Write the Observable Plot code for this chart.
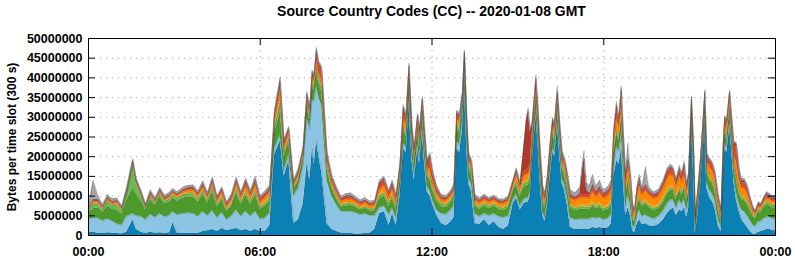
<!DOCTYPE html>
<html><head><meta charset="utf-8">
<script src="https://cdn.jsdelivr.net/npm/d3@7"></script>
<script src="https://cdn.jsdelivr.net/npm/@observablehq/plot@0.6"></script>
<style>
html,body{margin:0;padding:0;background:#fff;}
#title{width:795px;box-sizing:border-box;padding-left:68px;padding-top:3px;height:26px;line-height:23px;text-align:center;font:bold 14px "Liberation Sans",Arial,sans-serif;color:#000;}
</style></head>
<body>
<div id="title">Source Country Codes (CC) -- 2020-01-08 GMT</div>
<div id="chart"></div>
<script>
// time of each 300 s slot sample, minutes after 00:00 GMT
const times = [0,10,20,30,40,50,60,70,80,93,
 100,110,120,130,140,150,160,170,177,186,
 200,210,220,230,240,250,260,270,280,290,
 300,310,320,330,340,350,360,370,380,390,
 402,410,420,430,440,450,458,464,469,473,
 478,483,489,494,500,510,520,530,540,550,
 560,570,580,590,600,610,620,630,637,645,
 653,660,666,672,678,683,690,694,700,704,
 710,716,721,730,740,750,760,766,772,778,
 784,788,793,797,803,810,820,830,840,850,
 860,870,880,890,897,905,912,918,922,926,
 930,935,938,942,946,952,957,962,968,973,
 977,983,988,993,998,1004,1010,1020,1030,1036,
 1039,1044,1050,1057,1064,1072,1080,1090,1096,1101,
 1107,1112,1117,1121,1126,1131,1136,1141,1145,1150,
 1155,1160,1168,1175,1185,1195,1205,1213,1220,1226,
 1232,1239,1244,1249,1254,1258,1264,1268,1272,1277,
 1283,1287,1292,1296,1302,1308,1313,1320,1326,1331,
 1334,1338,1344,1348,1353,1358,1364,1369,1375,1381,
 1387,1393,1398,1404,1410,1416,1422,1428,1434,1440];

// series values, millions of bytes per slot (stack order bottom -> top)
const cc1 = [0.8,0.8,0.6,0.5,0.7,0.6,0.5,0.4,0.8,4.0,
 1.5,0.8,0.5,0.8,0.6,0.7,0.5,0.7,3.2,0.6,
 0.6,0.5,0.5,0.6,1.0,1.2,1.5,1.0,1.8,1.2,
 1.5,1.8,1.2,1.5,1.0,1.5,1.0,1.0,2.5,20.5,
 24,15,19,3.0,4.0,8.0,18,14,22,18,
 24,20,16,10,3.0,1.5,1.0,0.6,0.5,0.5,
 0.4,0.4,0.5,0.6,1.5,5.5,6.0,2.5,5.5,2.5,
 10,22,21,33,19,14,22,18,26,19,
 11,10,8.0,5.0,3.0,2.5,3.5,4.5,22,21,
 27,38,22,13,11,3.0,2.8,4.0,2.5,3.5,
 2.0,1.5,2.5,8.0,9.5,6.5,8.0,8.5,8.5,10,
 18,26,30,24,15,5.0,3.5,7.5,15,21,
 20,28,20,13,11.5,7.5,2.0,1.5,1.5,1.5,
 1.5,1.5,1.6,2.0,1.8,2.0,1.7,2.0,3.0,15,
 19,18,22,14,5.0,7.0,5.0,1.0,0.8,3.0,
 4.0,2.8,3.0,2.5,2.3,2.8,4.0,5.5,6.5,7.0,
 5.0,6.5,6.0,7.0,4.5,7.0,27,17,0.5,5.0,
 12.5,19,28,12,9.5,8.5,7.0,2.5,0.8,17,
 22,21,27.5,22,13.5,9.0,6.0,4.0,3.0,2.0,
 1.0,0.3,0.3,0.8,1.0,1.3,1.5,1.5,1.2,1.2];
const cc2 = [3.4,3.6,3.8,3.2,3.5,3.0,2.4,2.2,4.0,1.5,
 3.5,4.0,3.5,4.5,4.0,4.8,4.2,4.4,2.8,4.6,
 5.0,5.2,5.0,4.2,5.0,3.8,4.8,3.5,4.0,2.8,
 3.4,4.6,3.6,4.6,3.8,4.6,3.2,3.4,3.2,1.5,
 1.5,1.5,1.5,7.0,8.0,9.5,12,13,12.5,16,
 14,15,17,14,11,8.5,6.8,5.4,5.6,5.6,
 5.4,4.8,5.0,4.4,3.5,1.5,1.5,2.8,1.5,2.0,
 1.2,1.5,1.3,1.5,1.5,1.5,1.5,1.5,1.5,1.5,
 1.5,1.2,1.2,1.5,2.5,2.8,3.0,3.0,2.0,2.0,
 2.0,1.5,1.5,1.5,2.0,2.5,2.0,1.5,2.5,2.0,
 2.8,3.0,2.4,1.0,1.0,1.0,1.0,1.0,1.0,1.0,
 1.0,1.0,1.0,1.0,1.0,1.2,1.0,1.0,1.2,1.2,
 1.2,1.2,1.2,1.3,1.5,2.0,2.5,2.5,2.6,2.6,
 2.6,2.6,2.5,2.6,2.5,2.6,2.3,2.4,2.4,2.0,
 3.5,3.3,3.5,3.5,2.5,3.5,2.5,1.5,1.3,2.0,
 2.5,2.0,2.2,2.2,1.8,2.0,2.2,2.5,2.5,2.0,
 2.0,2.5,2.0,2.2,2.0,1.8,1.5,1.2,1.0,1.2,
 1.2,1.2,1.2,1.5,2.0,2.0,2.0,1.8,1.2,1.2,
 1.3,1.3,1.3,1.3,1.3,2.0,2.0,2.5,3.0,3.0,
 2.8,2.3,2.0,2.6,2.6,3.0,3.2,3.2,3.0,3.0];
const cc3 = [1.6,2.4,2.6,2.2,3.2,3.0,3.6,2.8,4.0,6.5,
 5.5,4.0,2.4,3.8,3.0,4.2,3.2,3.4,3.4,3.5,
 4.0,4.0,4.2,3.6,4.4,3.2,4.8,2.8,3.2,2.0,
 2.5,4.3,3.0,4.0,3.0,4.2,2.4,3.0,3.0,4.0,
 6.0,3.5,3.0,1.5,1.8,2.0,2.5,2.3,3.0,2.8,
 3.5,3.5,3.5,3.2,2.8,2.0,1.5,1.2,1.4,1.5,
 1.4,1.2,1.4,1.2,1.2,2.2,2.5,2.0,2.3,2.0,
 2.5,3.0,2.8,3.5,3.0,2.5,2.8,2.8,3.0,3.0,
 2.5,2.8,2.5,2.2,1.8,1.8,1.9,2.2,3.0,3.2,
 3.5,3.5,3.0,2.6,2.6,2.0,1.8,2.0,1.8,1.9,
 1.8,1.8,2.0,2.0,2.4,2.3,3.0,3.2,3.3,3.0,
 3.0,3.0,3.2,3.0,2.8,2.4,2.2,2.4,2.8,2.8,
 2.8,3.0,2.8,2.6,2.5,2.5,2.5,2.3,2.5,2.6,
 2.6,2.5,2.4,2.8,2.4,2.6,2.2,2.3,2.4,3.0,
 3.0,2.8,3.2,3.0,2.5,3.0,2.5,1.5,1.4,2.2,
 2.5,2.4,2.8,2.4,2.2,2.0,2.2,2.4,2.5,2.4,
 2.0,2.3,2.2,2.5,2.0,2.2,2.5,2.0,1.2,1.8,
 2.0,2.2,2.4,2.4,2.6,2.6,2.4,2.0,1.4,2.0,
 2.2,2.2,2.5,2.3,2.3,3.0,2.6,2.6,2.8,2.8,
 2.5,2.2,1.9,2.4,2.2,2.8,3.0,2.8,2.8,2.9];
const cc4 = [0.5,1.2,1.0,0.6,1.2,1.0,1.2,0.8,1.5,5.8,
 2.5,1.2,0.5,0.8,0.6,0.8,0.6,0.7,0.8,0.7,
 0.8,0.9,0.9,0.8,0.8,0.6,0.9,0.5,0.6,0.4,
 0.5,1.0,0.6,0.8,0.7,0.9,0.6,0.7,0.8,1.2,
 2.0,1.0,0.8,0.4,0.5,0.5,0.8,0.7,0.8,0.8,
 1.0,0.9,1.0,0.9,0.8,0.6,0.5,0.4,0.5,0.5,
 0.4,0.4,0.4,0.4,0.4,0.8,0.8,0.7,0.8,0.7,
 0.8,1.0,0.9,1.2,1.0,0.8,0.9,0.9,1.0,0.9,
 0.8,0.8,0.8,0.7,0.6,0.6,0.6,0.7,1.0,1.0,
 1.2,1.5,1.0,0.9,0.8,0.6,0.6,0.6,0.6,0.6,
 0.6,0.6,0.6,0.6,0.7,0.7,0.8,0.8,0.8,0.8,
 0.8,0.8,0.8,0.8,0.8,0.7,0.7,0.7,0.8,0.8,
 0.8,0.8,0.8,0.7,0.7,0.7,0.6,0.6,0.6,0.6,
 0.6,0.6,0.6,0.7,0.6,0.7,0.6,0.6,0.6,0.8,
 0.8,0.7,0.8,0.8,0.7,0.8,0.7,0.5,0.4,0.6,
 0.7,0.6,0.6,0.6,0.6,0.5,0.6,0.6,0.6,0.6,
 0.5,0.6,0.5,0.6,0.5,0.5,0.6,0.6,0.4,0.5,
 0.6,0.6,0.6,0.6,0.6,0.6,0.6,0.5,0.4,0.6,
 0.6,0.6,0.6,0.6,0.6,0.7,0.7,0.6,0.6,0.6,
 0.5,0.5,0.4,0.6,0.5,0.6,0.7,0.6,0.6,0.6];
const cc5 = [0.1,0.2,0.2,0.2,0.2,0.2,0.2,0.2,0.2,0.3,
 0.2,0.2,0.1,0.2,0.2,0.2,0.2,0.2,0.2,0.2,
 0.2,0.3,0.3,0.3,0.3,0.3,0.4,0.3,0.4,0.3,
 0.3,0.5,0.4,0.5,0.4,0.5,0.4,0.4,0.4,0.6,
 0.8,0.4,0.4,0.2,0.3,0.3,0.4,0.3,0.4,0.4,
 0.5,0.5,0.5,0.5,0.4,0.3,0.3,0.3,0.3,0.3,
 0.3,0.2,0.3,0.2,0.3,0.4,0.4,0.4,0.4,0.4,
 0.4,0.5,0.5,0.5,0.4,0.4,0.4,0.4,0.4,0.4,
 0.4,0.5,0.4,0.4,0.3,0.3,0.3,0.4,0.5,0.5,
 0.4,0.4,0.4,0.4,0.4,0.3,0.3,0.3,0.3,0.3,
 0.3,0.3,0.3,0.3,0.4,0.4,0.5,0.5,0.5,0.5,
 0.5,0.5,0.5,0.5,0.4,0.4,0.4,0.4,0.5,0.5,
 0.5,0.5,0.5,0.5,0.5,0.4,0.4,0.4,0.5,0.5,
 0.5,0.5,0.5,0.6,0.5,0.5,0.5,0.5,0.5,0.5,
 0.5,0.5,0.5,0.5,0.5,0.5,0.5,0.4,0.4,0.5,
 0.5,0.5,0.5,0.5,0.5,0.5,0.5,0.5,0.5,0.5,
 0.5,0.5,0.5,0.5,0.4,0.4,0.4,0.4,0.3,0.4,
 0.4,0.4,0.5,0.5,0.5,0.5,0.5,0.4,0.3,0.4,
 0.4,0.4,0.4,0.4,0.4,0.5,0.5,0.5,0.5,0.5,
 0.4,0.3,0.3,0.3,0.3,0.3,0.3,0.3,0.3,0.3];
const cc6 = [0.3,0.4,0.4,0.3,0.4,0.3,0.4,0.3,0.4,0.4,
 0.4,0.4,0.3,0.4,0.3,0.4,0.4,0.4,0.4,0.4,
 0.5,0.6,0.6,0.6,0.8,0.7,0.9,0.8,0.9,0.7,
 0.9,1.0,0.9,1.2,1.0,1.2,0.9,1.0,1.0,1.5,
 2.5,1.2,1.2,0.6,0.8,0.8,1.0,0.9,1.2,1.2,
 1.5,1.4,1.5,1.4,1.2,0.9,0.8,0.7,0.8,0.8,
 0.7,0.7,0.7,0.6,0.7,1.2,1.4,1.2,1.3,1.2,
 1.2,1.8,1.6,1.5,1.2,1.2,1.2,1.2,1.2,1.2,
 1.0,1.5,1.2,1.0,0.8,0.8,0.8,0.8,1.2,1.2,
 0.8,0.8,0.8,0.9,0.9,0.7,0.7,0.8,0.7,0.7,
 0.7,0.8,0.9,1.0,1.4,1.2,1.5,1.5,1.5,1.4,
 1.3,1.3,1.3,1.3,1.2,1.2,1.1,1.2,1.3,1.3,
 1.3,1.5,1.3,1.2,1.2,1.2,1.5,1.6,1.8,1.8,
 1.8,1.8,1.8,2.5,1.9,2.4,2.0,2.3,2.5,2.5,
 3.0,2.2,3.0,2.5,2.2,2.5,2.5,1.3,1.2,2.0,
 2.5,1.9,2.3,2.0,1.9,2.0,2.4,2.8,2.8,2.6,
 2.3,2.6,2.3,2.6,2.0,2.0,1.5,1.3,0.8,1.4,
 1.6,1.6,1.8,1.8,2.2,2.2,2.0,1.8,1.2,1.6,
 1.7,1.7,2.0,1.8,2.2,3.5,2.5,2.0,2.0,1.8,
 1.2,0.7,0.5,0.7,0.6,0.7,0.8,0.7,0.7,0.7];
const cc7 = [0.2,0.3,0.3,0.2,0.3,0.3,0.3,0.2,0.3,0.3,
 0.3,0.3,0.2,0.3,0.2,0.3,0.3,0.3,0.3,0.3,
 0.4,0.4,0.4,0.4,0.5,0.4,0.6,0.5,0.6,0.4,
 0.6,0.6,0.5,0.8,0.6,0.8,0.6,0.7,0.7,1.0,
 1.8,0.8,0.8,0.5,0.6,0.6,0.8,0.8,1.0,1.0,
 1.8,1.8,2.2,2.0,1.2,0.8,0.6,0.5,0.6,0.6,
 0.5,0.5,0.5,0.5,0.5,1.2,1.3,1.0,1.2,0.9,
 1.2,2.0,1.8,1.5,1.2,1.2,1.2,1.2,1.2,1.2,
 1.0,3.0,1.8,1.0,0.6,0.5,0.6,0.6,1.0,1.0,
 0.6,0.6,0.6,0.8,0.8,0.5,0.5,0.5,0.5,0.5,
 0.4,0.5,0.5,0.6,0.8,0.7,1.2,1.2,1.3,1.0,
 1.0,1.5,2.5,2.0,1.5,1.0,0.9,1.0,1.1,1.1,
 1.0,1.0,0.9,0.8,0.8,0.7,0.6,0.5,0.6,0.8,
 0.8,0.8,0.7,1.1,0.8,1.0,0.8,1.0,1.1,1.5,
 2.5,1.5,3.5,1.5,1.3,1.5,1.3,0.8,0.7,1.0,
 1.4,0.8,1.0,0.8,0.7,0.8,1.0,1.5,1.5,1.3,
 1.2,1.5,1.4,2.2,0.9,1.2,1.2,0.8,0.4,0.6,
 0.9,1.2,1.6,1.3,1.3,1.3,1.2,0.9,0.8,1.3,
 1.3,1.4,1.6,1.6,2.3,4.0,1.8,1.2,1.5,1.2,
 0.7,0.5,0.4,0.4,0.4,0.5,0.6,0.5,0.5,0.5];
const cc8 = [0.1,0.2,0.2,0.1,0.2,0.2,0.2,0.1,0.2,0.2,
 0.2,0.2,0.1,0.2,0.1,0.2,0.2,0.2,0.2,0.2,
 0.2,0.2,0.2,0.2,0.3,0.2,0.3,0.2,0.3,0.2,
 0.3,0.3,0.3,0.4,0.3,0.4,0.3,0.3,0.3,0.4,
 0.6,0.3,0.3,0.2,0.3,0.2,0.3,0.3,0.4,0.3,
 0.6,0.5,0.6,0.5,0.4,0.3,0.3,0.2,0.3,0.3,
 0.2,0.2,0.2,0.2,0.2,0.4,0.4,0.3,0.4,0.3,
 0.4,0.6,0.5,0.4,0.3,0.3,0.4,0.4,0.4,0.4,
 0.3,0.5,0.4,0.3,0.2,0.2,0.2,0.2,0.4,0.4,
 0.3,0.3,0.3,0.3,0.3,0.2,0.2,0.2,0.2,0.2,
 0.2,0.2,0.2,0.2,0.4,0.3,5.5,12.5,14.5,8.5,
 2.5,1.0,0.6,0.5,0.5,0.4,0.4,0.5,0.5,0.5,
 0.5,0.5,0.4,0.4,0.4,0.3,0.3,0.3,0.4,6.5,
 9.0,1.2,0.5,0.6,0.5,0.5,0.4,0.4,0.4,0.5,
 0.6,0.5,0.6,0.5,0.5,0.5,0.4,0.3,0.3,0.4,
 0.5,0.3,0.4,0.3,0.3,0.3,0.4,0.4,0.4,0.4,
 0.3,0.4,0.4,0.5,0.3,0.3,0.3,0.3,0.2,0.3,
 0.3,0.3,0.4,0.4,0.4,0.4,0.4,0.3,0.3,0.4,
 0.4,0.4,0.5,0.5,0.5,0.5,0.5,0.4,0.4,0.4,
 0.3,0.2,0.2,0.2,0.2,0.2,0.3,0.3,0.3,0.3];
const cc9 = [0.1,0.1,0.1,0.1,0.1,0.1,0.1,0.1,0.1,0.1,
 0.1,0.1,0.1,0.1,0.1,0.1,0.1,0.1,0.1,0.1,
 0.1,0.1,0.1,0.1,0.2,0.1,0.2,0.1,0.1,0.1,
 0.1,0.2,0.1,0.2,0.1,0.2,0.1,0.2,0.2,0.3,
 0.3,0.2,0.2,0.1,0.1,0.1,0.2,0.2,0.2,0.2,
 0.3,0.2,0.2,0.2,0.2,0.1,0.1,0.1,0.1,0.1,
 0.1,0.1,0.1,0.1,0.1,0.2,0.2,0.1,0.2,0.1,
 0.2,0.2,0.2,0.2,0.2,0.2,0.2,0.2,0.2,0.2,
 0.2,0.2,0.2,0.1,0.1,0.1,0.1,0.1,0.2,0.2,
 0.2,0.2,0.2,0.2,0.2,0.1,0.1,0.1,0.1,0.1,
 0.1,0.1,0.1,0.1,0.1,0.1,0.2,0.2,0.3,0.2,
 0.2,0.2,0.2,0.2,0.2,0.2,0.2,0.2,0.2,0.2,
 0.2,0.3,0.2,0.2,0.2,0.2,0.2,0.1,0.2,0.2,
 0.2,0.2,0.2,0.2,0.2,0.2,0.2,0.2,0.2,0.2,
 0.3,0.2,0.3,0.2,0.2,0.2,0.2,0.1,0.1,0.2,
 0.2,0.2,0.2,0.2,0.2,0.2,0.2,0.2,0.2,0.2,
 0.2,0.2,0.2,0.2,0.2,0.2,0.2,0.2,0.1,0.1,
 0.2,0.2,0.2,0.2,0.2,0.2,0.2,0.1,0.1,0.2,
 0.2,0.2,0.2,0.2,0.2,0.2,0.2,0.2,0.2,0.2,
 0.1,0.1,0.1,0.2,0.1,0.2,0.3,0.3,0.2,0.2];
const other = [0.4,4.8,1.0,0.5,0.6,0.6,0.6,0.5,0.7,0.4,
 0.5,0.5,0.4,0.5,0.5,0.5,0.5,0.5,0.5,0.5,
 0.6,0.5,0.6,0.5,0.6,0.5,0.5,0.4,0.5,0.4,
 0.5,0.6,0.5,0.6,0.6,0.8,0.5,0.5,0.6,0.8,
 0.8,0.5,0.5,0.5,0.6,0.5,0.6,0.5,0.5,0.5,
 0.6,0.5,0.5,0.5,0.6,0.5,0.5,0.5,0.5,0.6,
 0.5,0.5,0.5,0.5,0.5,0.5,0.5,0.5,0.5,0.4,
 0.5,0.6,0.5,0.5,0.5,0.5,0.5,0.5,0.5,0.5,
 0.5,0.5,0.5,0.5,0.5,0.5,0.5,0.5,0.5,0.6,
 0.5,0.4,0.5,0.5,0.5,0.5,0.5,0.5,0.4,0.4,
 0.4,0.4,0.5,0.4,0.5,0.4,0.5,0.5,0.7,0.6,
 0.7,0.7,0.7,0.7,0.6,0.6,0.6,0.6,0.6,0.6,
 0.7,1.2,1.0,0.8,0.8,1.0,1.0,1.0,1.4,1.8,
 1.9,1.8,1.7,2.4,1.3,1.5,0.8,0.8,0.9,1.0,
 0.8,0.6,0.6,0.5,0.6,4.0,1.5,0.6,0.5,0.6,
 0.7,0.5,4.5,0.8,0.5,0.6,0.6,0.6,0.5,0.5,
 0.5,0.7,0.5,0.7,0.5,0.5,0.3,0.4,0.2,0.3,
 0.3,0.3,0.3,0.3,0.4,0.4,0.3,0.3,0.3,0.3,
 0.3,0.4,0.4,0.3,0.3,0.3,0.3,0.4,0.5,0.5,
 0.5,0.4,0.3,0.3,0.3,0.3,0.4,0.4,0.4,0.5];

const seriesNames = ["CC1","CC2","CC3","CC4","CC5","CC6","CC7","CC8","CC9","other"];
const seriesValues = [cc1,cc2,cc3,cc4,cc5,cc6,cc7,cc8,cc9,other];
const seriesColors = ["#0b80b5","#8cc5e3","#4d9a2c","#6dbb4d","#f4b41a","#ff8a00","#e4481c","#b3382b","#5b5ea6","#a4a4a4"];
const yTicks = d3.range(0, 50000001, 5000000);
const xTicks = [0, 360, 720, 1080, 1440];
const xGridTicks = [360, 720, 1080];

const rows = [];
seriesNames.forEach((s, i) => {
  const vals = seriesValues[i];
  if (vals.length !== times.length) console.warn(s, vals.length, times.length);
  times.forEach((t, j) => rows.push({t, series: s, v: vals[j] * 1e6}));
});

const W = 795, H = 234, mt = 12, mb = 25, ml = 88, mr = 20;
const pw = W - ml - mr, ph = H - mt - mb;
const fmtTime = m => String(Math.floor(m / 60) % 24).padStart(2, "0") + ":00";
const stackOpts = {x: "t", y: "v", z: "series", order: seriesNames};

const chart = Plot.plot({
  width: W, height: H,
  marginTop: mt, marginBottom: mb, marginLeft: ml, marginRight: mr,
  style: {fontFamily: '"Liberation Sans", Arial, sans-serif', fontSize: "12.5px", fontWeight: "bold", color: "#000", background: "#fff", overflow: "visible"},
  x: {domain: [0, 1440]},
  y: {domain: [0, 50000000]},
  color: {domain: seriesNames, range: seriesColors},
  marks: [
    Plot.ruleY(yTicks.slice(1, -1), {stroke: "#a8a8a8", strokeDasharray: "1.2,4.8", strokeWidth: 1}),
    Plot.ruleX(xGridTicks, {stroke: "#a8a8a8", strokeDasharray: "1.2,4.8", strokeWidth: 1}),
    Plot.areaY(rows, {...stackOpts, fill: "series", curve: "linear"}),
    Plot.lineY(rows, Plot.stackY2({...stackOpts, stroke: "#444", strokeOpacity: 0.35, strokeWidth: 0.6, curve: "linear"})),
    Plot.tickY(yTicks, {y: d => d, insetRight: pw - 7, stroke: "#000"}),
    Plot.tickY(yTicks, {y: d => d, insetLeft: pw - 7, stroke: "#000"}),
    Plot.tickX(xTicks, {x: d => d, insetBottom: ph - 7, stroke: "#000"}),
    Plot.tickX(xTicks, {x: d => d, insetTop: ph - 7, stroke: "#000"}),
    Plot.axisY(yTicks, {tickSize: 0, tickPadding: 6, tickFormat: d3.format("d"), label: null}),
    Plot.axisX(xTicks, {tickSize: 0, tickPadding: 12, tickFormat: fmtTime, label: null}),
    Plot.text(["Bytes per time slot (300 s)"], {text: d => d, frameAnchor: "left", textAnchor: "middle", rotate: -90, dx: -76, fontSize: 12, fontWeight: "bold"}),
    Plot.frame({stroke: "#000"})
  ]
});
document.getElementById("chart").appendChild(chart);
</script>
</body></html>
